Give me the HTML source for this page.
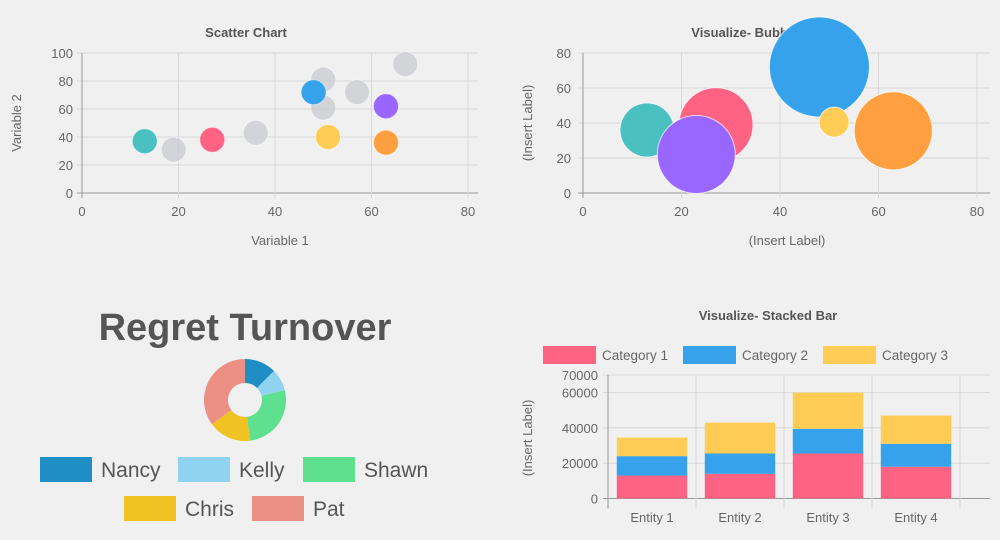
<!DOCTYPE html>
<html><head><meta charset="utf-8"><style>
html,body{margin:0;padding:0;background:#f0f0f0;}
svg{display:block;font-family:"Liberation Sans",Arial,sans-serif;}
</style></head><body>
<svg id="c" width="1000" height="540" viewBox="0 0 1000 540"></svg>
<script>
// ---- Scatter data
const scatterX=[13,19,27,36,50,50,57,67,48,63,51,63];
const scatterY=[37,31,38,43,81,61,72,92,72,62,40,36];
const scatterColors=["#4bc0c0","#c9cbcf","#ff6384","#c9cbcf","#c9cbcf","#c9cbcf","#c9cbcf","#c9cbcf","#36a2eb","#9966ff","#ffcd56","#ff9f40"];
const scatterXTicks=[0,20,40,60,80];
const scatterYTicks=[0,20,40,60,80,100];
// ---- Bubble data
const bubbleX=[13,27,23,48,51,63];
const bubbleY=[36,39,22,72,40.5,35.5];
const bubbleR=[27,37,39,50,15,39];
const bubbleColors=["#4bc0c0","#ff6384","#9966ff","#36a2eb","#ffcd56","#ff9f40"];
const bubbleXTicks=[0,20,40,60,80];
const bubbleYTicks=[0,20,40,60,80];
// ---- Donut data
const donutLabels=["Nancy","Kelly","Shawn","Chris","Pat"];
const donutValues=[45,31,97,61,126];
const donutColors=["#1f8ec4","#8fd3f0","#5ee08f","#f0c322","#ec8f85"];
// ---- Stacked bar data
const barCategories=["Entity 1","Entity 2","Entity 3","Entity 4"];
const cat1=[13000,14000,25500,18000];
const cat2=[11000,11500,14000,13000];
const cat3=[10500,17500,20500,16000];
const barSeriesNames=["Category 1","Category 2","Category 3"];
const barColors=["#ff6384","#36a2eb","#ffcd56"];
const barYTicks=[0,20000,40000,60000,70000];

const svg=document.getElementById('c');
const NS="http://www.w3.org/2000/svg";
function mk(tag,attrs,parent,text){const e=document.createElementNS(NS,tag);for(const k in attrs)e.setAttribute(k,attrs[k]);if(text!==undefined)e.textContent=text;(parent||svg).appendChild(e);return e;}
function group(name){const g=mk('g',{});return g;}

// ===== Scatter
(function(){
const g=group('scatter-chart');
const x0=82,x1=468,y0=193,y1=53;
const sx=v=>x0+(x1-x0)*v/80, sy=v=>y0-(y0-y1)*v/100;
const t=mk('text',{x:246,y:37,'text-anchor':'middle','font-size':13,'font-weight':'bold',fill:'#555'},g,'Scatter Chart');

scatterYTicks.forEach(v=>{mk('line',{x1:x0-5,x2:478,y1:sy(v),y2:sy(v),stroke:v===0?'#999':'#d8d8d8'},g);
 const l=mk('text',{x:x0-9,y:sy(v)+5,'text-anchor':'end','font-size':13,fill:'#666'},g,String(v));});
scatterXTicks.forEach(v=>{mk('line',{x1:sx(v),x2:sx(v),y1:y1,y2:y0+5,stroke:v===0?'#999':'#d8d8d8'},g);
 const l=mk('text',{x:sx(v),y:y0+23,'text-anchor':'middle','font-size':13,fill:'#666'},g,String(v));});
const xt=mk('text',{x:280,y:245,'text-anchor':'middle','font-size':13,fill:'#666'},g,'Variable 1');
const yt=mk('text',{x:21,y:123,'text-anchor':'middle','font-size':13,fill:'#666',transform:'rotate(-90 21 123)'},g,'Variable 2');
scatterX.forEach((v,i)=>{const c=mk('circle',{cx:sx(v),cy:sy(scatterY[i]),r:12.5,fill:scatterColors[i],'fill-opacity':scatterColors[i]==='#c9cbcf'?0.75:1,stroke:'#fff','stroke-opacity':0.5},g);
 });
})();

// ===== Bubble
(function(){
const g=group('bubble-chart');
const x0=583,x1=977,y0=193,y1=53;
const sx=v=>x0+(x1-x0)*v/80, sy=v=>y0-(y0-y1)*v/80;
const t=mk('text',{x:745,y:37,'text-anchor':'middle','font-size':13,'font-weight':'bold',fill:'#555'},g,'Visualize- Bubble');

bubbleYTicks.forEach(v=>{mk('line',{x1:x0-5,x2:990,y1:sy(v),y2:sy(v),stroke:v===0?'#999':'#d8d8d8'},g);
 const l=mk('text',{x:x0-12,y:sy(v)+5,'text-anchor':'end','font-size':13,fill:'#666'},g,String(v));});
bubbleXTicks.forEach(v=>{mk('line',{x1:sx(v),x2:sx(v),y1:y1,y2:y0+5,stroke:v===0?'#999':'#d8d8d8'},g);
 const l=mk('text',{x:sx(v),y:y0+23,'text-anchor':'middle','font-size':13,fill:'#666'},g,String(v));});
const xt=mk('text',{x:787,y:245,'text-anchor':'middle','font-size':13,fill:'#666'},g,'(Insert Label)');
const yt=mk('text',{x:532,y:123,'text-anchor':'middle','font-size':13,fill:'#666',transform:'rotate(-90 532 123)'},g,'(Insert Label)');
bubbleX.forEach((v,i)=>{const c=mk('circle',{cx:sx(v),cy:sy(bubbleY[i]),r:bubbleR[i],fill:bubbleColors[i],stroke:'#fff','stroke-opacity':0.7},g);
 });
})();

// ===== Donut
(function(){
const g=group('donut-chart');
const t=mk('text',{x:245,y:340,'text-anchor':'middle','font-size':38,'font-weight':'bold',fill:'#555'},g,'Regret Turnover');

const cx=245,cy=400,R=41,r=17;const tot=donutValues.reduce((a,b)=>a+b,0);let a=0;
const pt=(ang,rad)=>[cx+rad*Math.sin(ang),cy-rad*Math.cos(ang)];
donutValues.forEach((v,i)=>{const a0=a,a1=a+v/tot*2*Math.PI;a=a1;const lg=(a1-a0)>Math.PI?1:0;
 const p1=pt(a0,R),p2=pt(a1,R),p3=pt(a1,r),p4=pt(a0,r);
 const p=mk('path',{d:`M${p1}A${R},${R} 0 ${lg} 1 ${p2}L${p3}A${r},${r} 0 ${lg} 0 ${p4}Z`,fill:donutColors[i]},g);
 });
const pos=[[40,457],[178,457],[303,457],[124,496],[252,496]];
donutLabels.forEach((l,i)=>{const [x,y]=pos[i];
 const r1=mk('rect',{x:x,y:y,width:52,height:25,fill:donutColors[i]},g);
 const tx=mk('text',{x:x+61,y:y+20,'font-size':21,fill:'#555'},g,l);});
})();

// ===== Stacked bar
(function(){
const g=group('stacked-bar-chart');
const x0=608,xEnd=990,y0=498.5,yTop=375;
const band=88;
const sy=v=>y0-(y0-yTop)*v/70000;
const t=mk('text',{x:768,y:320,'text-anchor':'middle','font-size':13,'font-weight':'bold',fill:'#555'},g,'Visualize- Stacked Bar');

const lx=[543,683,823];
barSeriesNames.forEach((n,i)=>{const r1=mk('rect',{x:lx[i],y:346,width:53,height:18,fill:barColors[i]},g);
 const tx=mk('text',{x:lx[i]+59,y:360,'font-size':13.5,fill:'#666'},g,n);});
barYTicks.forEach(v=>{mk('line',{x1:x0-5,x2:xEnd,y1:sy(v),y2:sy(v),stroke:v===0?'#999':'#d8d8d8'},g);
 const l=mk('text',{x:x0-10,y:sy(v)+5,'text-anchor':'end','font-size':13,fill:'#666'},g,String(v));});
for(let i=0;i<=barCategories.length;i++){mk('line',{x1:x0+band*i,x2:x0+band*i,y1:yTop,y2:y0+10,stroke:i===0?'#999':'#d8d8d8'},g);}
const yt=mk('text',{x:532,y:438,'text-anchor':'middle','font-size':13,fill:'#666',transform:'rotate(-90 532 438)'},g,'(Insert Label)');
const series=[cat1,cat2,cat3];
barCategories.forEach((c,i)=>{const bx=x0+band*i+band*0.1,bw=band*0.8;let base=0;
 series.forEach((s,k)=>{const top=base+s[i];const r1=mk('rect',{x:bx,y:sy(top),width:bw,height:sy(base)-sy(top),fill:barColors[k]},g);
  base=top;});
 const l=mk('text',{x:x0+band*(i+0.5),y:522,'text-anchor':'middle','font-size':13,fill:'#666'},g,c);});
})();
</script>
</body></html>
